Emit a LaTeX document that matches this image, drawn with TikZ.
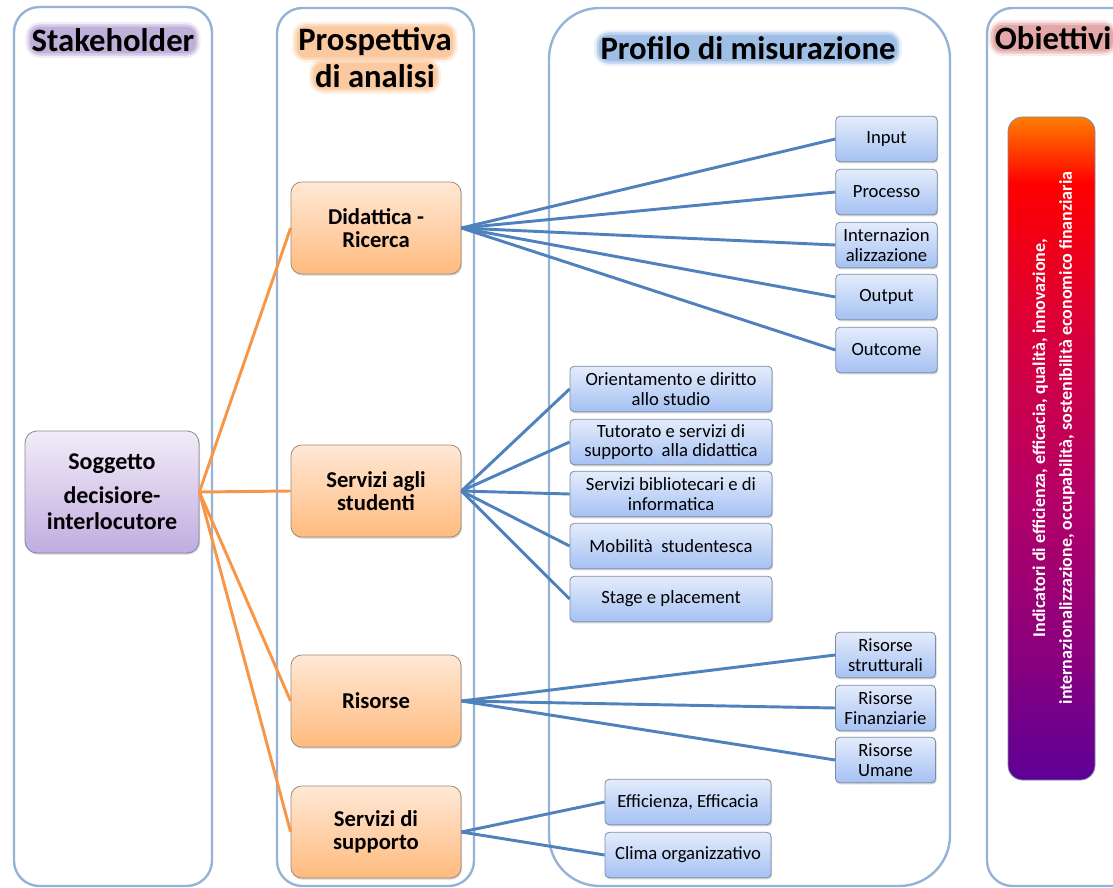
\documentclass[tikz,border=0pt]{standalone}
\usepackage{fontspec}
\setmainfont{Carlito}
\usetikzlibrary{positioning, shadows}
\definecolor{laneblue}{HTML}{95B3D7}
\definecolor{orline}{HTML}{F79646}
\definecolor{blline}{HTML}{4F81BD}
\definecolor{ortop}{HTML}{FFE8D6}
\definecolor{orbot}{HTML}{FFBB7E}
\definecolor{orborder}{HTML}{A08A7A}
\definecolor{bltop}{HTML}{E4ECFB}
\definecolor{blbot}{HTML}{A5C1F3}
\definecolor{blborder}{HTML}{7A8CA6}
\definecolor{pptop}{HTML}{F1ECF8}
\definecolor{ppbot}{HTML}{C1ACE0}
\definecolor{ppborder}{HTML}{8A8498}
\definecolor{glowpp}{HTML}{B3A2D2}
\definecolor{glowor}{HTML}{F9C08E}
\definecolor{glowbl}{HTML}{8DB3E2}
\definecolor{glowrd}{HTML}{E0999A}
\definecolor{barorange}{HTML}{FF7E00}
\definecolor{barred}{HTML}{FF0000}
\definecolor{barcrimson}{HTML}{D6003E}
\definecolor{barmagenta}{HTML}{B30068}
\definecolor{barplum}{HTML}{88007E}
\definecolor{barpurple}{HTML}{5E0096}
\pgfdeclareverticalshading{obiettivishade}{100bp}{color(0bp)=(barpurple); color(25bp)=(barpurple);
  color(34bp)=(barplum); color(46bp)=(barmagenta); color(58bp)=(barcrimson);
  color(70bp)=(barred); color(75bp)=(barorange); color(100bp)=(barorange)}

\begin{document}
\begin{tikzpicture}[
    x=0.75pt, y=-0.75pt,
    lane/.style={draw=laneblue, line width=1.8pt, rounded corners=#1},
    header/.style={font=\fontsize{24.5}{26}\selectfont\bfseries, fill=#1!85,
      rounded corners=7pt, inner sep=1.2pt,
      preaction={draw=#1, line width=7pt, opacity=.2},
      preaction={draw=#1, line width=3.5pt, opacity=.45}},
    softshadow/.style={drop shadow={shadow xshift=0.8pt, shadow yshift=-1.2pt, opacity=.35}},
    orbox/.style={draw=orborder, line width=0.6pt, rounded corners=8pt,
      top color=ortop, bottom color=orbot, softshadow,
      minimum width=127.5pt, minimum height=69pt, align=center,
      font=\fontsize{17}{17.5}\selectfont\bfseries},
    blbox/.style={draw=blborder, line width=0.6pt, rounded corners=3pt,
      top color=bltop, bottom color=blbot, softshadow,
      minimum width=#1, minimum height=34pt, inner sep=2pt, align=center,
      font=\fontsize{14}{14.5}\selectfont},
    orconn/.style={orline, line width=2.2pt},
    blconn/.style={blline, line width=2.2pt},
  ]
  \clip (0,0) rectangle (1113,888);

  % Lanes
  \draw[lane=19pt] (14,7) rectangle (212,886);
  \draw[lane=19pt] (277,8) rectangle (474,886);
  \draw[lane=38pt] (549,8) rectangle (950,886);
  \draw[lane=19pt] (987,8) rectangle (1150,886);

  % Headers
  \node[header=glowpp] (hstake) at (113,40) {Stakeholder};
  \node[header=glowor] (hprosp) at (375,42) {Prospettiva};
  \node[header=glowor] (hanalisi) at (375,76) {di analisi};
  \node[header=glowbl] (hprofilo) at (748,48) {Profilo di misurazione};
  \node[header=glowrd, anchor=west] (hobiettivi) at (993,38) {Obiettivi};

  % Stakeholder
  \node[draw=ppborder, line width=0.6pt, rounded corners=9pt, top color=pptop,
    bottom color=ppbot, softshadow, minimum width=130.5pt, minimum height=91.5pt,
    align=center, font=\fontsize{18}{19.5}\selectfont\bfseries]
    (soggetto) at (112,492) {Soggetto\\[6pt]decisiore-\\interlocutore};

  % Prospettive
  \node[orbox] (didattica) at (376,228) {Didattica -\\Ricerca};
  \node[orbox] (studenti) at (376,491) {Servizi agli\\studenti};
  \node[orbox] (risorse) at (376,701) {Risorse};
  \node[orbox] (supporto) at (376,832) {Servizi di\\supporto};

  % Profilo: didattica e ricerca
  \node[blbox=76pt] (input) at (886.5,139) {Input};
  \node[blbox=76pt] (processo) at (886.5,192) {Processo};
  \node[blbox=76pt] (internaz) at (886.5,245) {Internazion\\alizzazione};
  \node[blbox=76pt] (output) at (886.5,297) {Output};
  \node[blbox=76pt] (outcome) at (886.5,350) {Outcome};

  % Profilo: servizi agli studenti
  \node[blbox=151.5pt] (orientamento) at (671,389) {Orientamento e diritto\\allo studio};
  \node[blbox=151.5pt] (tutorato) at (671,442) {Tutorato e servizi di\\supporto\ \ alla didattica};
  \node[blbox=151.5pt] (biblioteca) at (671,494) {Servizi bibliotecari e di\\informatica};
  \node[blbox=151.5pt] (mobilita) at (671,546) {Mobilità\ \ studentesca};
  \node[blbox=151.5pt] (stage) at (671,599) {Stage e placement};

  % Profilo: risorse
  \node[blbox=75pt] (strutturali) at (885.5,655) {Risorse\\strutturali};
  \node[blbox=75pt] (finanziarie) at (885.5,708) {Risorse\\Finanziarie};
  \node[blbox=75pt] (umane) at (885.5,760) {Risorse\\Umane};

  % Profilo: servizi di supporto
  \node[blbox=124.5pt] (efficienza) at (688,802) {Efficienza, Efficacia};
  \node[blbox=124.5pt] (clima) at (688,855) {Clima organizzativo};

  % Obiettivi bar
  \draw[draw=blborder, line width=0.6pt, shading=obiettivishade, rounded corners=11pt]
    (1008,117) rectangle (1095,780);
  \node[rotate=90, text=white, align=center, font=\fontsize{13.5}{20}\selectfont\bfseries]
    (indicatori) at (1053.5,438)
    {Indicatori di efficienza, efficacia, qualità, innovazione,\\internazionalizzazione, occupabilità, sostenibilità economico finanziaria};

  % Connectors
  \draw[orconn] (soggetto.east) -- (didattica.west);
  \draw[orconn] (soggetto.east) -- (studenti.west);
  \draw[orconn] (soggetto.east) -- (risorse.west);
  \draw[orconn] (soggetto.east) -- (supporto.west);

  \draw[blconn] (didattica.east) -- (input.west);
  \draw[blconn] (didattica.east) -- (processo.west);
  \draw[blconn] (didattica.east) -- (internaz.west);
  \draw[blconn] (didattica.east) -- (output.west);
  \draw[blconn] (didattica.east) -- (outcome.west);

  \draw[blconn] (studenti.east) -- (orientamento.west);
  \draw[blconn] (studenti.east) -- (tutorato.west);
  \draw[blconn] (studenti.east) -- (biblioteca.west);
  \draw[blconn] (studenti.east) -- (mobilita.west);
  \draw[blconn] (studenti.east) -- (stage.west);

  \draw[blconn] (risorse.east) -- (strutturali.west);
  \draw[blconn] (risorse.east) -- (finanziarie.west);
  \draw[blconn] (risorse.east) -- (umane.west);

  \draw[blconn] (supporto.east) -- (efficienza.west);
  \draw[blconn] (supporto.east) -- (clima.west);

\end{tikzpicture}
\end{document}
